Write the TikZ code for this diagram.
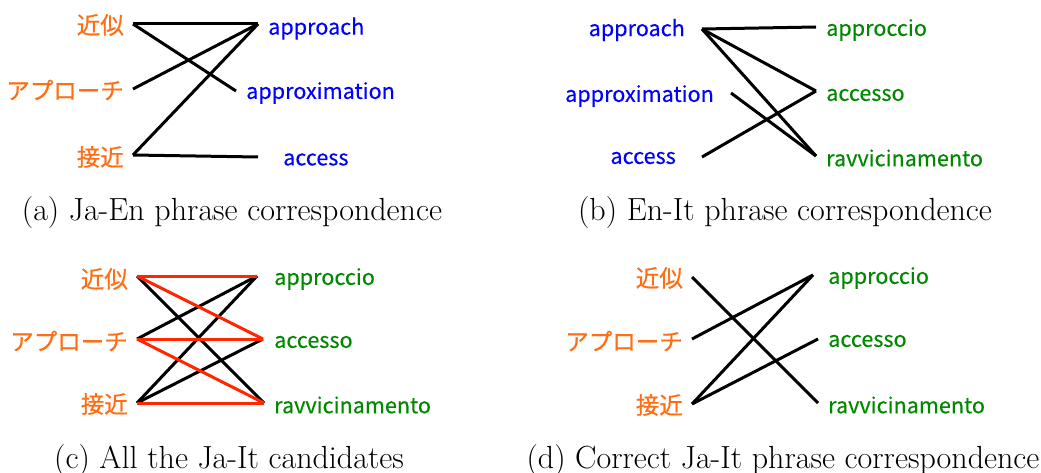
\documentclass[tikz,border=0pt]{standalone}
\usepackage{fontspec}
\newfontfamily\jafont{Noto Sans CJK JP}[FakeBold=0.6]
\newfontfamily\wordfont{Noto Sans CJK JP}[FakeBold=0.3]
\definecolor{jaorange}{RGB}{255,110,20}
\definecolor{enblue}{RGB}{0,0,255}
\definecolor{itgreen}{RGB}{0,136,0}
\definecolor{candred}{RGB}{255,38,0}
\tikzset{
  jalabel/.style={inner sep=0pt, anchor=east, text=jaorange, font=\jafont\fontsize{23.5}{28}\selectfont},
  enleft/.style={inner sep=0pt, anchor=east, text=enblue, font=\wordfont\fontsize{21.6}{26}\selectfont},
  enright/.style={inner sep=0pt, anchor=west, text=enblue, font=\wordfont\fontsize{21.6}{26}\selectfont},
  itlabel/.style={inner sep=0pt, anchor=west, text=itgreen, font=\wordfont\fontsize{21.6}{26}\selectfont},
  caption/.style={inner sep=0pt, anchor=base, font=\fontsize{32}{38}\selectfont},
  link/.style={line width=3pt, black},
  candlink/.style={line width=3pt, candred},
}
\begin{document}
\begin{tikzpicture}[x=1pt, y=-1pt]
\useasboundingbox (0,0) rectangle (1041,473);

% ---------- (a) Japanese -> English ----------
\node[jalabel] (a-ja1) at (124,25) {近似};
\node[jalabel] (a-ja2) at (124,90) {アプローチ};
\node[jalabel] (a-ja3) at (124,157) {接近};
\node[enright] (a-en1) at (268,28.5) {approach};
\node[enright] (a-en2) at (246,93) {approximation};
\node[enright] (a-en3) at (283,159.5) {access};
\coordinate (a-p1) at (133,24);
\coordinate (a-p2) at (133,89);
\coordinate (a-p3) at (133,155);
\coordinate (a-q1) at (258,24);
\coordinate (a-q2) at (236,91);
\coordinate (a-q3) at (258,157);
\draw[link] (a-p1) -- (a-q1);
\draw[link] (a-p1) -- (a-q2);
\draw[link] (a-p2) -- (a-q1);
\draw[link] (a-p3) -- (a-q1);
\draw[link] (a-p3) -- (a-q3);
\node[caption] (a-cap) at (232,220) {(a) Ja-En phrase correspondence};

% ---------- (b) English -> Italian ----------
\node[enleft] (b-en1) at (685,30) {approach};
\node[enleft] (b-en2) at (714,96) {approximation};
\node[enleft] (b-en3) at (676,158) {access};
\node[itlabel] (b-it1) at (826,30) {approccio};
\node[itlabel] (b-it2) at (826,95) {accesso};
\node[itlabel] (b-it3) at (826,158) {ravvicinamento};
\coordinate (b-p1) at (702,29);
\coordinate (b-p2) at (731,93);
\coordinate (b-p3) at (702,157);
\coordinate (b-q1) at (816,27);
\coordinate (b-q2) at (816,91);
\coordinate (b-q3) at (816,156);
\draw[link] (b-p1) -- (b-q1);
\draw[link] (b-p1) -- (b-q2);
\draw[link] (b-p1) -- (b-q3);
\draw[link] (b-p2) -- (b-q3);
\draw[link] (b-p3) -- (b-q2);
\node[caption] (b-cap) at (785,220) {(b) En-It phrase correspondence};

% ---------- (c) all Japanese -> Italian candidates ----------
\node[jalabel] (c-ja1) at (128,279) {近似};
\node[jalabel] (c-ja2) at (128,341) {アプローチ};
\node[jalabel] (c-ja3) at (128,404) {接近};
\node[itlabel] (c-it1) at (274,279) {approccio};
\node[itlabel] (c-it2) at (274,342) {accesso};
\node[itlabel] (c-it3) at (274,405) {ravvicinamento};
\coordinate (c-p1) at (137,276);
\coordinate (c-p2) at (137,339);
\coordinate (c-p3) at (137,403);
\coordinate (c-q1) at (257,276);
\coordinate (c-q2) at (263,339);
\coordinate (c-q3) at (264,403);
\draw[link] (c-p1) -- (c-q3);
\draw[link] (c-p2) -- (c-q1);
\draw[link] (c-p3) -- (c-q1);
\draw[link] (c-p3) -- (c-q2);
\draw[candlink] (c-p1) -- (c-q1);
\draw[candlink] (c-p1) -- (c-q2);
\draw[candlink] (c-p2) -- (c-q2);
\draw[candlink] (c-p2) -- (c-q3);
\draw[candlink] (c-p3) -- (c-q3);
\node[caption] (c-cap) at (229,468) {(c) All the Ja-It candidates};

% ---------- (d) correct Japanese -> Italian ----------
\node[jalabel] (d-ja1) at (683,278) {近似};
\node[jalabel] (d-ja2) at (683,341) {アプローチ};
\node[jalabel] (d-ja3) at (683,405) {接近};
\node[itlabel] (d-it1) at (828,278) {approccio};
\node[itlabel] (d-it2) at (828,341) {accesso};
\node[itlabel] (d-it3) at (828,405) {ravvicinamento};
\coordinate (d-p1) at (692,277);
\coordinate (d-p2) at (692,339);
\coordinate (d-p3) at (692,404);
\coordinate (d-q1) at (813,275);
\coordinate (d-q2) at (818,339);
\coordinate (d-q3) at (818,403);
\draw[link] (d-p1) -- (d-q3);
\draw[link] (d-p2) -- (d-q1);
\draw[link] (d-p3) -- (d-q1);
\draw[link] (d-p3) -- (d-q2);
\node[caption] (d-cap) at (783,468) {(d) Correct Ja-It phrase correspondence};
\end{tikzpicture}
\end{document}
